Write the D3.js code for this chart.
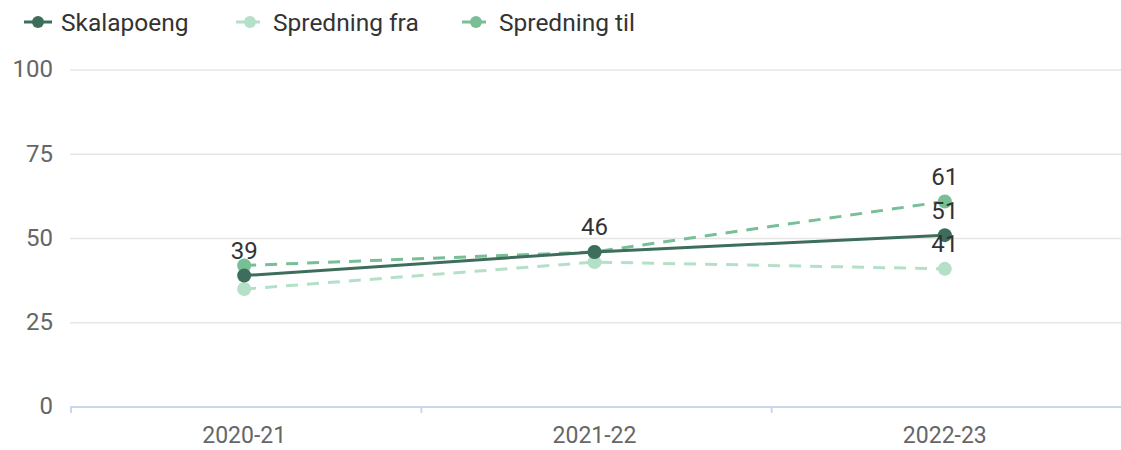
<!DOCTYPE html>
<html><head><meta charset="utf-8">
<script src="https://cdn.jsdelivr.net/npm/d3@7"></script>
<style>
html,body{margin:0;padding:0;background:#fff;}
svg{display:block;font-family:Roboto, "Noto Sans", sans-serif;}
</style></head>
<body>
<svg id="chart" width="1121" height="450"></svg>
<script>
const categories = ["2020-21", "2021-22", "2022-23"];
const seriesNames = ["Skalapoeng", "Spredning fra", "Spredning til"];
const skalapoeng = [39, 46, 51];
const spredningFra = [35, 43, 41];
const spredningTil = [42, 46, 61];
const yTicks = [0, 25, 50, 75, 100];

const colors = ["#3d6e5b", "#b5e0c8", "#78bf98"];
const dashed = [false, true, true];
const values = [skalapoeng, spredningFra, spredningTil];

const svg = d3.select("#chart");
const m = {left: 70, right: 1121, top: 70, bottom: 407};

const x = d3.scaleBand().domain(categories).range([m.left, m.right]).paddingInner(0).paddingOuter(0);
const y = d3.scaleLinear().domain([0, 100]).range([m.bottom, m.top]);
const cx = c => x(c) + x.bandwidth() / 2 - 1;

// grid
svg.append("g").selectAll("line").data(yTicks.filter(t => t > 0)).join("line")
  .attr("x1", m.left).attr("x2", m.right)
  .attr("y1", d => y(d)).attr("y2", d => y(d))
  .attr("stroke", "#e6e6e6").attr("stroke-width", 1.5);

// y labels
svg.append("g").selectAll("text").data(yTicks).join("text")
  .attr("x", 53).attr("y", d => y(d) - 1).attr("dy", "0.35em")
  .attr("text-anchor", "end").attr("font-size", 24).attr("fill", "#666")
  .text(d => d);

// x axis
const gx = svg.append("g").attr("transform", `translate(0,${m.bottom})`);
gx.append("line").attr("x1", m.left).attr("x2", m.right).attr("y1", 0).attr("y2", 0)
  .attr("stroke", "#ccd6eb").attr("stroke-width", 2);
const tickPos = [m.left, ...categories.slice(1).map(c => x(c))];
gx.selectAll("line.tk").data(tickPos).join("line").attr("class", "tk")
  .attr("x1", d => d + 1).attr("x2", d => d + 1).attr("y1", 0).attr("y2", 6)
  .attr("stroke", "#ccd6eb").attr("stroke-width", 2);
gx.selectAll("text").data(categories).join("text")
  .attr("x", d => cx(d)).attr("y", 36)
  .attr("text-anchor", "middle").attr("font-size", 23).attr("fill", "#666")
  .text(d => d);

// lines
const line = d3.line().x((d, i) => cx(categories[i])).y(d => y(d));
const order = [1, 2, 0];
order.forEach(s => {
  svg.append("path").datum(values[s]).attr("d", line)
    .attr("fill", "none").attr("stroke", colors[s]).attr("stroke-width", 3)
    .attr("stroke-dasharray", dashed[s] ? "12,9" : null);
  svg.append("g").selectAll("circle").data(values[s]).join("circle")
    .attr("cx", (d, i) => cx(categories[i])).attr("cy", d => y(d)).attr("r", 7)
    .attr("fill", colors[s]);
});

// data labels with overlap hiding (priority: Skalapoeng, then others)
const placed = [];
const labelG = svg.append("g");
[0, 2, 1].forEach(s => {
  values[s].forEach((v, i) => {
    const lx = cx(categories[i]), ly = y(v) - 25;
    const box = {x0: lx - 15, x1: lx + 15, y0: ly - 11, y1: ly + 11};
    const hit = placed.some(b => !(box.x1 < b.x0 || box.x0 > b.x1 || box.y1 < b.y0 || box.y0 > b.y1));
    if (hit) return;
    placed.push(box);
    labelG.append("text").attr("x", lx).attr("y", ly).attr("dy", "0.35em")
      .attr("text-anchor", "middle").attr("font-size", 24).attr("fill", "#333")
      .text(v);
  });
});

// legend
const legendX = [24, 236, 462];
const leg = svg.append("g");
seriesNames.forEach((n, i) => {
  const g = leg.append("g").attr("transform", `translate(${legendX[i]},22)`);
  g.append("line").attr("x1", 0).attr("x2", 28).attr("y1", 0).attr("y2", 0)
    .attr("stroke", colors[i]).attr("stroke-width", 3)
    .attr("stroke-dasharray", dashed[i] ? "10,4" : null);
  g.append("circle").attr("cx", 14).attr("cy", 0).attr("r", 6).attr("fill", colors[i]);
  g.append("text").attr("x", 37).attr("y", 0).attr("dy", "0.35em")
    .attr("font-size", 24.5).attr("fill", "#333").text(n);
});
</script>
</body></html>
